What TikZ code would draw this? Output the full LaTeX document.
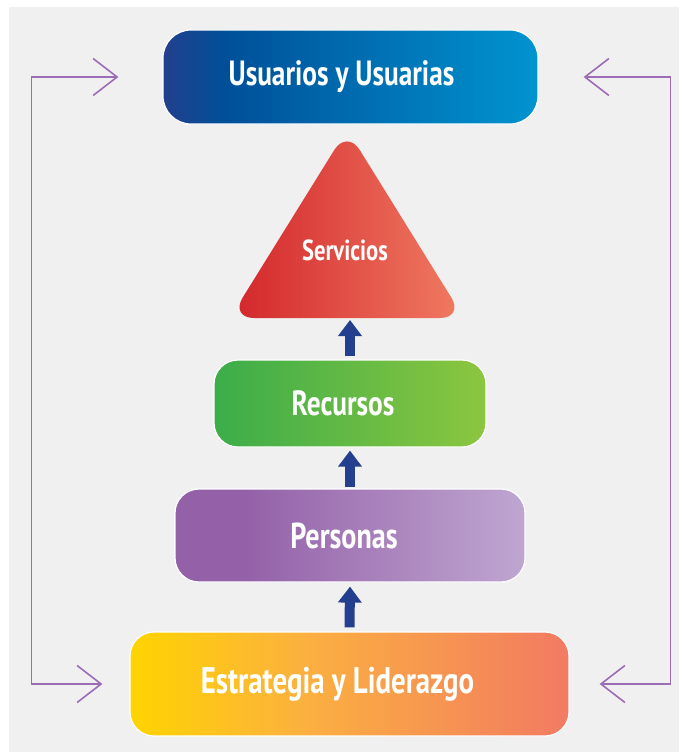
\documentclass[tikz,border=0pt]{standalone}
\usepackage{fontspec}
\setmainfont{PT Sans}
\newfontfamily\labfont{PT Sans}[FakeStretch=0.78]
\usetikzlibrary{arrows.meta}
\definecolor{bggray}{HTML}{F0F0F0}
\definecolor{usuA}{HTML}{233F8C}
\definecolor{usuB}{HTML}{004F98}
\definecolor{usuC}{HTML}{0094D0}
\definecolor{recA}{HTML}{3BAD4A}
\definecolor{recC}{HTML}{8CC63F}
\definecolor{perA}{HTML}{9461A8}
\definecolor{perC}{HTML}{BFA6D1}
\definecolor{estA}{HTML}{FFD400}
\definecolor{estB}{HTML}{FBB040}
\definecolor{estC}{HTML}{F27A62}
\definecolor{srvA}{HTML}{D3262B}
\definecolor{srvC}{HTML}{F07B62}
\definecolor{arrblue}{HTML}{243F8E}
\definecolor{purp}{HTML}{9C6CB6}
\pgfdeclarehorizontalshading{usush}{100bp}{color(0bp)=(usuA); color(25bp)=(usuA); color(33bp)=(usuB); color(75bp)=(usuC); color(100bp)=(usuC)}
\pgfdeclarehorizontalshading{recsh}{100bp}{color(0bp)=(recA); color(25bp)=(recA); color(75bp)=(recC); color(100bp)=(recC)}
\pgfdeclarehorizontalshading{persh}{100bp}{color(0bp)=(perA); color(25bp)=(perA); color(35bp)=(perA); color(75bp)=(perC); color(100bp)=(perC)}
\pgfdeclarehorizontalshading{estsh}{100bp}{color(0bp)=(estA); color(25bp)=(estA); color(45bp)=(estB); color(75bp)=(estC); color(100bp)=(estC)}
\pgfdeclarehorizontalshading{srvsh}{100bp}{color(0bp)=(srvA); color(25bp)=(srvA); color(75bp)=(srvC); color(100bp)=(srvC)}
\tikzset{
  boxst/.style={shade, draw=white, line width=1.2pt, rounded corners=24pt, minimum width=#1},
  labst/.style={text=white, font=\labfont\bfseries},
  uparrow/.style={draw=arrblue, line width=10pt, -{Triangle[width=23pt,length=16pt]}},
  fb/.style={draw=purp, line width=1.6pt, {Straight Barb[length=24pt,width=37pt]}-{Straight Barb[length=24pt,width=37pt]}}
}
\begin{document}
\begin{tikzpicture}[x=1pt,y=-1pt]
\useasboundingbox (0,0) rectangle (679,752);
\fill[white] (0,0) rectangle (679,752);
\fill[bggray] (9,7) rectangle (679,752);
% boxes
\node[boxst=375pt, shading=usush, rounded corners=28pt, minimum height=94pt] (usu) at (350.5,77) {};
\node[labst, font=\labfont\bfseries\fontsize{35}{35}\selectfont] (usut) at ([xshift=-9pt]usu.center) {Usuarios y Usuarias};
\node[boxst=272pt, shading=recsh, minimum height=87pt] (rec) at (350,403.5) {};
\node[labst, font=\labfont\bfseries\fontsize{35}{35}\selectfont] (rect) at ([xshift=-7pt]rec.center) {Recursos};
\node[boxst=350pt, shading=persh, minimum height=93pt] (per) at (350,535.5) {};
\node[labst, font=\labfont\bfseries\fontsize{36}{36}\selectfont] (pert) at ([xshift=-6pt]per.center) {Personas};
\node[boxst=439pt, shading=estsh, minimum height=104pt] (est) at (349.5,684) {};
\node[labst, font=\labfont\bfseries\fontsize{37}{37}\selectfont] (estt) at ([xshift=-12pt]est.center) {Estrategia y Liderazgo};
% triangle
\shade[shading=srvsh, rounded corners=24pt] (347,318) -- (230,318) -- (347,129.5) -- (464,318) -- cycle;
\node[labst, font=\labfont\bfseries\fontsize{29}{29}\selectfont] (srv) at (345,250) {Servicios};
\coordinate (tribase) at (350,318);
% blue arrows
\draw[uparrow] ([yshift=3pt]rec.north) -- ([yshift=-2pt]rec.north |- tribase);
\draw[uparrow] ([yshift=1pt]per.north) -- ([yshift=-3pt]rec.south);
\draw[uparrow] ([yshift=4pt]est.north) -- ([yshift=-4pt]per.south);
% feedback connectors
\coordinate (tl) at ([xshift=-44pt]usu.west);
\coordinate (bl) at ([xshift=-27pt]est.west);
\coordinate (tr) at ([xshift=45pt]usu.east);
\coordinate (br) at ([xshift=30pt]est.east);
\draw[fb] (tl) -- ++(-87,0) |- (bl);
\draw[fb] (tr) -- ++(87,0) |- (br);
\end{tikzpicture}
\end{document}
